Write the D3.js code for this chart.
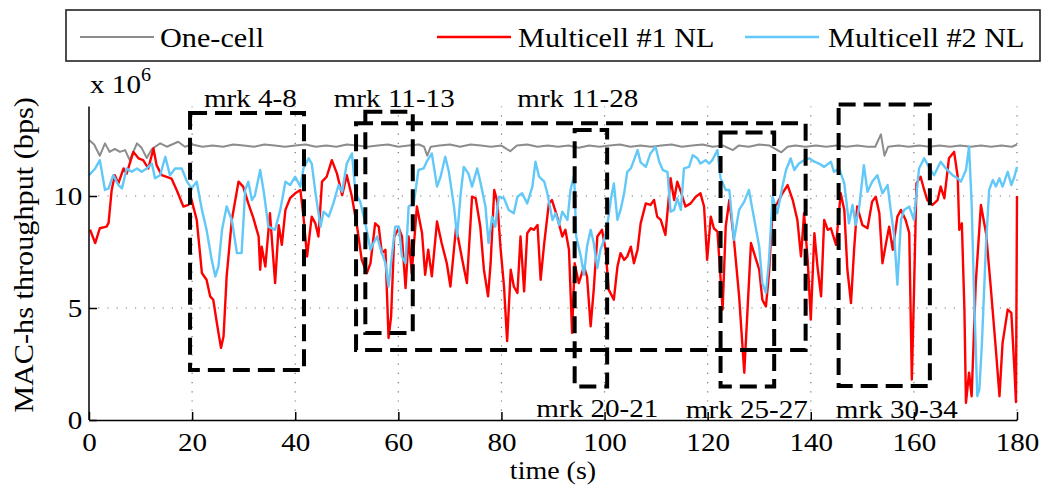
<!DOCTYPE html>
<html><head><meta charset="utf-8">
<script src="https://cdn.jsdelivr.net/npm/d3@7/dist/d3.min.js"></script>
<style>body{margin:0;background:#fff}svg{display:block}text{font-family:"Liberation Serif","Times New Roman",serif;fill:#000}</style>
</head><body><svg id="c" width="1051" height="486"></svg>
<script>
// ---- data (time s, throughput x 10^6 bps) ----
const xTicks = [0,20,40,60,80,100,120,140,160,180];
const yTicks = [0,5,10];
const seriesNames = ["One-cell","Multicell #1 NL","Multicell #2 NL"];
const oneCell = [[0,12.5],[1,12.3],[2.1,11.8],[3.1,12.35],[4,11.97],[5,12.1],[6,11.97],[7,12.05],[7.9,11.6],[9.3,12.35],[10.2,12.15],[11.2,11.7],[12.2,12.1],[13.8,12.35],[15.1,12.2],[17.3,12.42],[18.6,12.2],[20,12.3],[22,12.2],[24,12.25],[26,12.2],[28,12.3],[30,12.25],[32,12.2],[34,12.3],[36,12.25],[38,12.2],[40,12.25],[42,12.3],[44,12.2],[46,12.25],[48,12.2],[50,12.3],[52,12.25],[54,12.2],[56,12.25],[58,12.3],[60,12.2],[62,12.25],[64,12.3],[65,12.2],[65.6,11.8],[66.3,12.2],[68,12.25],[70,12.3],[72,12.2],[74,12.3],[76,12.25],[78,12.2],[80,12.25],[81.7,12.0],[83,12.25],[85,12.3],[87,12.2],[89,12.25],[91,12.2],[93,12.25],[95,12.15],[97,12.25],[99,12.2],[101,12.25],[103,12.3],[105,12.2],[107,12.25],[109,12.2],[111,12.25],[113,12.3],[115,12.2],[117,12.25],[119,12.3],[121,12.2],[123,12.25],[124.9,12.05],[126,12.25],[128,12.2],[130,12.3],[132,12.25],[134.3,11.95],[135.5,12.2],[137,12.25],[139,12.2],[141,12.25],[143,12.2],[145,12.25],[147,12.2],[149,12.25],[151,12.2],[152.5,12.2],[153.6,12.75],[154.3,11.8],[155,12.2],[157,12.25],[159,12.2],[161,12.25],[163,12.2],[165,12.25],[167,12.2],[169,12.25],[171,12.2],[173,12.25],[175,12.2],[177,12.25],[179,12.2],[180,12.3]];
const multi1 = [[0.2,8.5],[1.2,7.9],[2.1,8.56],[3.4,8.63],[3.8,8.8],[4.4,10.27],[5.0,10.93],[5.7,10.56],[6.7,11.23],[7.3,11.0],[8.6,11.97],[9.6,11.68],[10.5,11.6],[11.5,11.23],[12.5,12.12],[13.1,11.38],[14.1,10.93],[16.0,10.78],[17.0,10.27],[18.3,9.53],[19.3,9.6],[19.9,9.82],[20.9,8.93],[21.9,6.56],[22.8,6.26],[23.5,5.52],[24.1,5.37],[24.8,4.33],[25.6,3.22],[26.1,3.74],[26.7,6.41],[27.7,8.93],[29.0,10.64],[29.9,10.42],[30.9,9.67],[31.9,9.0],[32.9,8.19],[33.2,6.71],[33.5,7.74],[34.2,6.85],[35.1,9.23],[36.1,6.11],[36.8,8.7],[37.4,7.82],[38.1,9.38],[39.0,9.9],[40.0,10.12],[41.0,10.27],[41.6,9.08],[42.3,7.3],[43.2,9.08],[43.9,8.78],[44.5,8.19],[45.2,10.64],[46.1,10.86],[47.1,11.6],[48.1,11.0],[49.1,10.04],[50.0,10.93],[51.0,9.97],[52.0,8.63],[52.9,7.15],[53.9,6.56],[54.6,7.0],[55.5,8.78],[56.2,8.63],[56.8,7.45],[57.5,7.6],[58.1,3.66],[58.6,4.63],[59.2,8.19],[60.1,8.56],[60.7,8.19],[61.4,5.89],[62.0,8.19],[62.6,6.56],[63.6,9.53],[64.6,8.34],[65.2,6.48],[65.8,7.6],[66.5,6.41],[67.5,8.86],[68.4,7.9],[69.4,7.0],[70.1,5.96],[71.2,8.6],[71.7,8.0],[72.4,7.15],[73.3,6.11],[74.3,9.97],[75.0,9.9],[75.9,8.63],[76.6,6.71],[77.4,5.52],[77.9,7.0],[78.6,10.27],[79.2,9.75],[79.8,7.74],[80.5,5.96],[81.1,3.52],[81.8,6.71],[82.4,5.96],[83.1,5.67],[83.7,8.19],[84.4,5.74],[85.0,8.34],[85.7,8.56],[86.3,8.49],[87.0,8.71],[87.6,6.26],[88.3,7.9],[89.2,9.67],[89.8,9.82],[90.8,9.08],[91.8,8.19],[92.4,8.49],[93.1,7.6],[93.7,3.89],[94.2,7.0],[95.0,6.11],[96.0,6.85],[96.6,6.41],[97.3,4.18],[97.9,5.82],[98.6,8.19],[99.5,8.49],[100.2,7.6],[100.8,5.82],[101.8,5.37],[102.5,6.85],[103.1,7.45],[103.8,7.15],[104.4,7.3],[105.1,7.74],[105.7,7.0],[106.4,7.6],[107.0,8.78],[108.0,9.67],[108.9,9.6],[109.6,9.82],[110.2,9.08],[110.9,8.93],[111.8,8.26],[112.8,10.79],[113.5,9.82],[114.1,10.64],[114.8,10.19],[115.7,9.53],[116.7,9.67],[117.7,9.97],[118.6,10.12],[119.3,9.53],[119.9,7.15],[120.6,9.08],[121.2,8.56],[121.9,8.41],[122.9,4.93],[123.5,8.63],[124.2,9.82],[125.1,8.04],[126.1,5.52],[127.1,2.11],[127.7,4.78],[128.4,7.9],[129.0,7.45],[130.0,6.71],[130.6,5.37],[131.3,5.07],[131.9,6.56],[132.6,9.38],[133.5,9.67],[134.5,10.12],[135.5,10.49],[136.5,9.82],[137.4,8.93],[138.1,7.3],[138.7,9.23],[139.4,7.15],[140.0,4.48],[140.7,8.34],[141.3,6.85],[142.0,5.52],[142.6,8.93],[143.3,8.49],[143.9,8.56],[144.9,7.82],[145.8,10.12],[146.5,9.38],[147.1,6.71],[147.8,5.22],[148.4,7.6],[149.0,9.53],[150.0,8.71],[151.0,8.56],[151.9,9.75],[152.6,9.97],[153.3,9.23],[153.9,7.0],[154.6,7.9],[155.2,8.63],[155.9,7.6],[156.8,9.08],[157.5,9.38],[158.4,8.93],[159.1,8.34],[159.6,1.81],[160.0,5.52],[160.5,10.56],[161.3,10.86],[162.0,10.27],[162.6,9.82],[163.6,9.6],[164.6,9.82],[165.2,10.42],[165.9,9.9],[166.8,11.68],[167.8,11.97],[168.5,10.86],[168.8,8.49],[169.3,8.78],[169.8,4.93],[170.1,0.77],[170.7,2.11],[171.2,1.06],[172.0,6.11],[173.0,9.6],[174.0,8.34],[174.9,5.96],[175.9,3.15],[176.6,1.06],[177.2,3.44],[178.2,4.93],[178.9,4.78],[179.5,2.26],[179.8,0.8],[180.0,10.0]];
const multi2 = [[0,10.93],[1.2,11.23],[2.1,11.6],[3.1,10.27],[3.8,10.34],[4.7,10.93],[5.7,10.49],[6.4,10.34],[7.3,11.23],[8.3,11.08],[9.3,11.23],[10.2,11.08],[11.2,11.23],[12.2,11.45],[12.8,10.79],[13.8,10.93],[14.8,11.75],[15.7,10.93],[16.7,11.23],[18.0,11.23],[19.0,10.64],[19.9,10.34],[20.9,10.64],[21.9,9.38],[22.8,8.49],[23.8,7.15],[24.5,6.41],[25.1,6.85],[25.8,8.49],[26.7,9.53],[27.7,8.93],[28.7,7.45],[29.6,7.45],[30.3,10.27],[30.9,10.64],[31.6,9.82],[32.2,10.04],[33.2,11.16],[33.9,10.19],[34.8,8.63],[36.1,8.49],[37.1,9.38],[38.1,10.64],[39.0,10.49],[40.0,10.86],[41.0,10.42],[41.6,11.23],[42.6,11.68],[43.2,11.45],[43.9,10.19],[44.9,8.63],[45.5,9.3],[46.5,9.08],[47.4,9.67],[48.4,10.49],[49.1,10.19],[50.0,11.45],[51.0,11.9],[51.7,10.12],[52.6,9.75],[53.6,8.78],[54.6,7.6],[55.2,7.9],[55.9,8.19],[56.5,7.67],[57.5,7.0],[58.1,5.96],[58.8,7.45],[59.4,8.63],[60.1,8.63],[60.7,7.3],[61.4,7.0],[62.0,9.53],[63.0,9.67],[63.9,11.16],[64.9,11.23],[65.5,11.53],[66.5,11.9],[67.5,10.42],[68.2,10.86],[69.1,11.75],[69.8,11.08],[70.8,9.53],[71.4,8.19],[72.1,10.12],[72.7,11.3],[73.6,11.0],[74.3,10.42],[75.3,11.23],[75.9,10.64],[76.9,9.53],[77.5,7.9],[78.2,9.08],[78.8,8.63],[79.5,9.97],[80.5,9.9],[81.4,9.38],[82.4,9.23],[83.1,9.97],[84.0,10.12],[85.0,9.67],[86.0,10.42],[86.6,11.53],[87.3,10.86],[88.3,10.64],[88.9,10.12],[89.9,8.93],[90.5,9.23],[91.2,8.71],[91.8,9.3],[92.8,8.93],[93.4,10.27],[94.1,10.93],[94.5,8.19],[95.4,7.3],[96.0,6.48],[96.6,7.74],[97.3,8.49],[97.9,7.9],[98.6,6.78],[99.2,7.6],[99.9,8.04],[100.5,8.63],[101.2,9.82],[101.8,10.56],[102.5,8.93],[103.1,9.38],[103.8,10.12],[104.4,11.08],[105.1,11.23],[105.7,11.6],[106.4,12.05],[107.0,11.5],[108.0,11.3],[108.9,11.9],[109.9,12.2],[110.6,11.53],[111.3,11.16],[112.2,11.08],[112.8,9.3],[113.5,9.38],[114.1,9.9],[114.8,9.38],[115.4,11.23],[116.4,11.3],[117.1,11.82],[118.0,11.68],[118.6,11.45],[119.6,11.6],[120.3,11.45],[120.9,11.6],[121.9,12.05],[122.5,10.79],[123.5,10.27],[124.2,10.27],[125.1,8.04],[126.1,9.38],[127.1,9.75],[128.0,10.27],[128.7,9.38],[129.3,8.63],[130.0,7.74],[130.6,6.11],[131.3,5.67],[131.9,7.15],[132.6,9.97],[133.5,9.23],[134.5,10.42],[135.2,11.16],[136.1,11.68],[136.8,11.16],[137.7,11.45],[138.7,11.6],[139.7,11.68],[140.7,11.53],[141.6,11.45],[142.6,11.3],[143.9,11.53],[144.5,11.08],[145.5,11.23],[146.5,10.56],[147.4,8.78],[148.1,9.6],[148.7,8.71],[149.4,9.53],[150.3,11.38],[151.0,10.19],[151.9,10.64],[152.9,10.93],[153.9,10.12],[154.9,10.49],[155.5,9.38],[156.2,8.19],[156.8,6.04],[157.5,8.93],[158.1,9.38],[159.1,9.53],[160.0,8.93],[161.0,11.23],[162.0,11.68],[162.9,11.3],[163.9,10.93],[165.2,11.53],[166.2,11.23],[167.5,10.93],[168.5,10.79],[169.1,10.64],[170.1,11.16],[170.7,12.2],[171.2,9.67],[171.7,5.37],[172.3,1.06],[172.7,1.36],[173.2,3.44],[174.0,7.9],[174.6,10.27],[175.3,10.71],[175.9,10.42],[176.6,10.79],[177.2,10.42],[178.2,11.08],[178.9,10.49],[179.5,10.86],[180.0,11.3]];
// marker boxes: [label, t0, t1, v0, v1, labelT, labelV]
const markers = [
  ["mrk 4-8",   19.6, 41.7, 2.23, 13.7, 31.3, 13.97],
  ["mrk 11-13", 53.6, 62.8, 3.88, 13.76, 59.2, 13.97],
  ["mrk 11-28", 51.8, 139.0, 3.12, 13.25, 94.8, 13.97],
  ["mrk 20-21", 94.2, 100.5, 1.49, 12.95, 98.6, 0.13],
  ["mrk 25-27", 122.5, 132.9, 1.49, 12.83, 127.6, 0.09],
  ["mrk 30-34", 145.4, 163.1, 1.52, 14.09, 156.7, 0.09]
];

// ---- layout ----
const SX = 1.12;
const svg = d3.select("#c");
const x = d3.scaleLinear().domain([0,180]).range([89,1017]);
const y = d3.scaleLinear().domain([0,14]).range([420,106.4]);
const colors = ["#8c8c8c","#ff0000","#62c8f8"];
const widths = [2,2.4,2.4];

function txt(g, px, py, s, size, anchor, rot){
  return g.append("text")
    .attr("transform", `translate(${px},${py})${rot?" rotate(-90)":""} scale(${SX},1)`)
    .attr("font-size", size).attr("text-anchor", anchor).text(s);
}

// grid
const grid = svg.append("g").attr("stroke","#777").attr("stroke-width",1.2).attr("stroke-dasharray","1.2,8");
grid.selectAll(".vx").data(xTicks.slice(1)).join("line")
  .attr("x1",d=>x(d)).attr("x2",d=>x(d)).attr("y1",y(0)).attr("y2",y(14));
grid.selectAll(".hy").data(yTicks.slice(1)).join("line")
  .attr("x1",x(0)).attr("x2",x(180)).attr("y1",d=>y(d)).attr("y2",d=>y(d));

// lines
const line = d3.line().x(d=>x(d[0])).y(d=>y(d[1]));
[oneCell, multi1, multi2].forEach((s,i)=>{
  svg.append("path").datum(s).attr("d",line).attr("fill","none")
    .attr("stroke",colors[i]).attr("stroke-width",widths[i]).attr("stroke-linejoin","round");
});

// axes
const xa = svg.append("g").attr("transform",`translate(0,${y(0)})`)
  .call(d3.axisBottom(x).tickValues(xTicks).tickSizeInner(-8).tickSizeOuter(0).tickPadding(13));
const ya = svg.append("g").attr("transform",`translate(${x(0)},0)`)
  .call(d3.axisLeft(y).tickValues(yTicks).tickSizeInner(-8).tickSizeOuter(0).tickPadding(6));
[xa,ya].forEach(a=>{
  a.select(".domain").attr("stroke","#000").attr("stroke-width",1.5);
  a.selectAll(".tick line").attr("stroke","#000").attr("stroke-width",1.5);
  a.selectAll(".tick text").attr("font-size",26).attr("font-family",null)
   .attr("transform",`scale(${SX},1)`);
});
ya.select(".domain").attr("d",`M0,${y(0)}V${y(14)}`);

// marker boxes
const mg = svg.append("g");
markers.forEach(m=>{
  mg.append("rect").attr("x",x(m[1])).attr("y",y(m[4]))
    .attr("width",x(m[2])-x(m[1])).attr("height",y(m[3])-y(m[4]))
    .attr("fill","none").attr("stroke","#000").attr("stroke-width",4)
    .attr("stroke-dasharray","17,8");
  txt(mg, x(m[5]), y(m[6]), m[0], 26, "middle");
});

// axis labels
txt(svg, 553, 479, "time (s)", 25, "middle");
txt(svg, 33, 255, "MAC-hs throughput (bps)", 27, "middle", true);
const xl = svg.append("text").attr("transform",`translate(90,93) scale(${SX},1)`).attr("font-size",26);
xl.append("tspan").text("x 10");
xl.append("tspan").attr("font-size",18).attr("dy",-12).text("6");

// legend
const lg = svg.append("g");
lg.append("rect").attr("x",66).attr("y",10).attr("width",974).attr("height",51)
  .attr("fill","#fff").attr("stroke","#222").attr("stroke-width",1.6);
const legX = [[80,154,160],[437,511,518],[745,819,828]];
seriesNames.forEach((n,i)=>{
  lg.append("line").attr("x1",legX[i][0]).attr("x2",legX[i][1]).attr("y1",37).attr("y2",37)
    .attr("stroke",colors[i]).attr("stroke-width",widths[i]);
  txt(lg, legX[i][2], 47, n, 27, "start");
});
</script></body></html>
